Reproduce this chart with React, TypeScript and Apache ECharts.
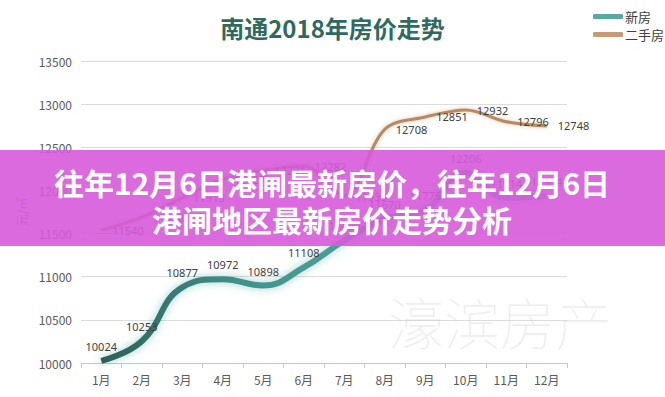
import React, { useEffect, useRef } from "react";
import * as echarts from "echarts";

const months = ["1月", "2月", "3月", "4月", "5月", "6月", "7月", "8月", "9月", "10月", "11月", "12月"];
const newHouse = [10024, 10253, 10877, 10972, 10898, 11108, 11420, 11670, 11775, 12206, 11914, 11934];
const secondHand = [11540, 11688, 11913, 12127, 12231, 12282, 11933, 12708, 12851, 12932, 12796, 12748];
const seriesNames = ["新房", "二手房"];
const titleText = "南通2018年房价走势";
const bannerLines = ["往年12月6日港闸最新房价，往年12月6日", "港闸地区最新房价走势分析"];
const watermark = "濠滨房产";

export default function App() {
  const ref = useRef<HTMLDivElement>(null);
  useEffect(() => {
    document.body.style.margin = "0";
    if (!ref.current) return;
    const chart = echarts.init(ref.current, undefined, { renderer: "svg" });
    const font = "'Noto Sans CJK SC', 'Noto Sans', sans-serif";
    chart.setOption({
      animation: false,
      backgroundColor: "#ffffff",
      textStyle: { fontFamily: font },
      title: {
        text: titleText,
        left: "center",
        top: 10,
        textStyle: { fontSize: 24, fontWeight: "bold", color: "#2f6a5f", fontFamily: font },
      },
      legend: {
        orient: "vertical",
        left: 588,
        top: 5,
        itemWidth: 30,
        itemHeight: 5,
        itemGap: 5,
        icon: "roundRect",
        textStyle: { fontSize: 13, color: "#404040", padding: [0, 0, 0, -3] },
        data: [
          { name: seriesNames[0], itemStyle: { color: "#5aa8a1" } },
          { name: seriesNames[1], itemStyle: { color: "#c49b74" } },
        ],
      },
      grid: { left: 81, right: 98, top: 61, bottom: 34, containLabel: false },
      xAxis: {
        type: "category",
        data: months,
        boundaryGap: true,
        axisLine: { lineStyle: { color: "#c8c8c8" } },
        axisTick: { show: true, length: 5, lineStyle: { color: "#c8c8c8" } },
        axisLabel: { color: "#595959", fontSize: 12, margin: 10 },
      },
      yAxis: {
        type: "value",
        min: 10000,
        max: 13500,
        interval: 500,
        name: "元/㎡",
        nameLocation: "middle",
        nameRotate: 90,
        nameGap: 54,
        nameTextStyle: { color: "#707070", fontSize: 12 },
        axisLine: { show: false },
        axisTick: { show: false },
        axisLabel: { color: "#595959", fontSize: 12, margin: 9, formatter: (v: number) => String(v) },
        splitLine: { lineStyle: { color: "#dcdcdc" } },
      },
      series: [
        {
          name: seriesNames[0],
          type: "line",
          data: newHouse,
          smooth: 0.45,
          symbol: "circle",
          symbolSize: 0,
          itemStyle: { color: "#5aa8a1" },
          lineStyle: {
            width: 6,
            color: new echarts.graphic.LinearGradient(0, 0, 1, 0, [
              { offset: 0, color: "#2d5f58" },
              { offset: 0.3, color: "#3f9189" },
              { offset: 1, color: "#62bdb3" },
            ]),
            shadowColor: "rgba(70,170,160,0.55)",
            shadowBlur: 8,
          },
          label: {
            show: true,
            position: "top",
            distance: 9,
            fontSize: 11,
            color: "#404040",
            fontFamily: "'Noto Sans', sans-serif",
          },
          z: 3,
        },
        {
          name: seriesNames[1],
          type: "line",
          data: secondHand,
          smooth: 0.35,
          symbol: "circle",
          symbolSize: 0,
          itemStyle: { color: "#c49b74" },
          lineStyle: {
            width: 3,
            color: "#b98a5e",
            shadowColor: "rgba(180,130,80,0.45)",
            shadowBlur: 4,
          },
          label: {
            show: true,
            position: "right",
            distance: 11,
            fontSize: 11,
            color: "#404040",
            fontFamily: "'Noto Sans', sans-serif",
          },
          z: 3,
        },
      ],
      graphic: [
        {
          type: "text",
          left: 388,
          top: 292,
          z: 1,
          silent: true,
          style: {
            text: watermark,
            fontSize: 56,
            fontWeight: "lighter",
            fontFamily: font,
            fill: "rgba(200,200,200,0.3)",
          },
        },
        {
          type: "rect",
          left: 0,
          top: 150,
          z: 100,
          shape: { width: 665, height: 96 },
          style: { fill: "rgba(214,90,217,0.9)" },
        },
        {
          type: "text",
          z: 101,
          x: 332,
          y: 182,
          style: {
            text: bannerLines[0],
            fontSize: 30,
            fontWeight: "bold",
            fontFamily: font,
            fill: "#ffffff",
            align: "center",
            verticalAlign: "middle",
          },
        },
        {
          type: "text",
          z: 101,
          x: 332,
          y: 219,
          style: {
            text: bannerLines[1],
            fontSize: 30,
            fontWeight: "bold",
            fontFamily: font,
            fill: "#ffffff",
            align: "center",
            verticalAlign: "middle",
          },
        },
      ],
    });
    return () => chart.dispose();
  }, []);
  return <div ref={ref} style={{ width: 665, height: 397 }} />;
}
